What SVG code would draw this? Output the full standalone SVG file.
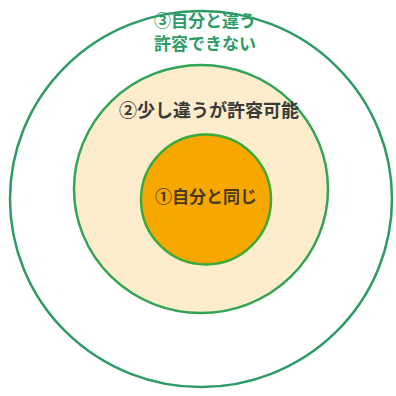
<svg xmlns="http://www.w3.org/2000/svg" width="396" height="396" viewBox="0 0 396 396">
<style>
.ring{stroke-width:2.5}
.t{font-family:"Noto Sans CJK JP","Noto Sans",sans-serif;font-weight:bold;text-anchor:middle}
</style>
<rect width="396" height="396" fill="#ffffff"/>
<g id="outer">
<ellipse cx="201" cy="199" rx="191" ry="188" fill="#ffffff" stroke="#2e9a66" class="ring"/>
<text class="t" x="205" y="27" font-size="17" fill="#2e9a66">③自分と違う</text>
<text class="t" x="205" y="50" font-size="17" fill="#2e9a66">許容できない</text>
</g>
<g id="middle">
<ellipse cx="201" cy="189" rx="127" ry="124" fill="#fdedcc" stroke="#33a356" class="ring"/>
<text class="t" x="209" y="117" font-size="18" fill="#3a3a3a">②少し違うが許容可能</text>
</g>
<g id="inner">
<circle cx="206" cy="199.5" r="65" fill="#f6a800" stroke="#3aaa3a" class="ring"/>
<text class="t" x="206" y="203" font-size="17" fill="#4a3a20">①自分と同じ</text>
</g>
<g id="connectors"></g>
</svg>
